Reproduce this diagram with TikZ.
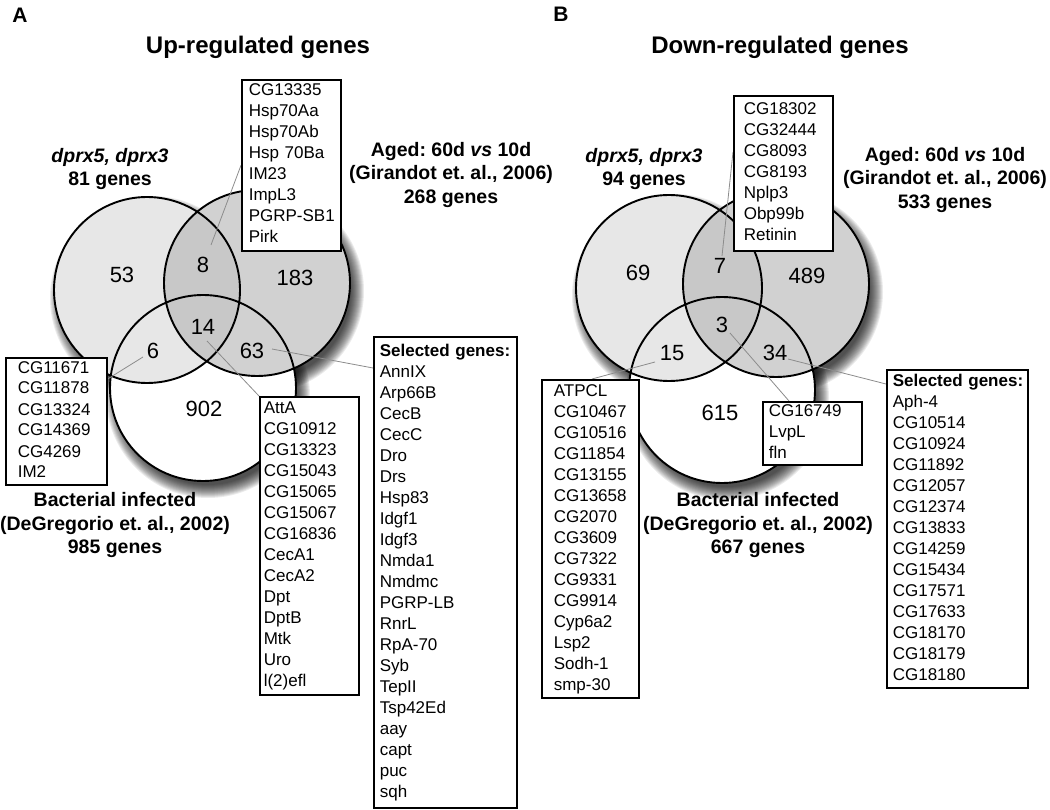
\documentclass[tikz,border=0pt]{standalone}
\usepackage{fontspec}
\setmainfont{Liberation Sans}
\usetikzlibrary{calc}
\pgfdeclarelayer{background}
\pgfsetlayers{background,main}
\definecolor{lgray}{HTML}{E7E7E7}
\definecolor{mgray}{HTML}{D1D1D1}
\definecolor{dgray}{HTML}{C8C8C8}
\definecolor{leadcol}{HTML}{8C8C8C}
\newcommand\shadowcirc[3]{%
  \foreach \k in {0,...,13}{\fill[black,opacity=0.08] (#1+5,#2+8) circle[radius={(#3+9-\k)*1pt}];}}
\newcommand\glist[1]{\begin{tabular}{@{}l@{}}#1\end{tabular}}
\tikzset{
  vennline/.style={draw=black, line width=1.9pt},
  num/.style={font=\fontsize{22}{24}\selectfont, inner sep=0pt},
  lbl/.style={font=\bfseries\fontsize{19.5}{23.5}\selectfont, align=center, inner sep=0pt},
  ttl/.style={font=\bfseries\fontsize{24}{28}\selectfont, inner sep=0pt},
  panel/.style={font=\bfseries\fontsize{21}{23}\selectfont, inner sep=0pt},
  genebox/.style={draw=black, line width=1.6pt, fill=white, anchor=north west, align=left, inner ysep=0pt, font=\fontsize{17}{21}\selectfont},
  lead/.style={draw=leadcol, line width=0.8pt}
}
\begin{document}
\frenchspacing
\begin{tikzpicture}[x=1pt,y=-1pt]
\useasboundingbox (0,0) rectangle (1050,810);
% ---------- titles ----------
\node[panel] (labA) at (20,15) {A};
\node[ttl] (titA) at (258,47) {Up-regulated genes};
\node[panel] (labB) at (561,14) {B};
\node[ttl] (titB) at (780,47) {Down-regulated genes};
% ---------- set labels ----------
\node[lbl] (dA) at (110,169) {\textit{dprx5, dprx3}\\81 genes};
\node[lbl] (agA) at (451,175) {Aged: 60d \textit{vs} 10d\\(Girandot et. al., 2006)\\268 genes};
\node[lbl] (bacA) at (115,525) {Bacterial infected\\(DeGregorio et. al., 2002)\\985 genes};
\node[lbl] (dB) at (644,169) {\textit{dprx5, dprx3}\\94 genes};
\node[lbl] (agB) at (945,180) {Aged: 60d \textit{vs} 10d\\(Girandot et. al., 2006)\\533 genes};
\node[lbl] (bacB) at (758,525) {Bacterial infected\\(DeGregorio et. al., 2002)\\667 genes};
% ---------- numbers ----------
\node[num] (a53) at (122,275) {53};
\node[num] (a8) at (203,265) {8};
\node[num] (a183) at (295,278) {183};
\node[num] (a14) at (203,327) {14};
\node[num] (a6) at (153,351) {6};
\node[num] (a63) at (252,351) {63};
\node[num] (a902) at (204,409) {902};
\node[num] (b69) at (638,273) {69};
\node[num] (b7) at (720,266) {7};
\node[num] (b489) at (807,276) {489};
\node[num] (b3) at (722,325) {3};
\node[num] (b15) at (672,353) {15};
\node[num] (b34) at (775,353) {34};
\node[num] (b615) at (720,413) {615};
% ---------- gene boxes ----------
\node[genebox, minimum width=99pt, minimum height=171pt, inner xsep=7pt, text width=85pt] (boxA8) at (241,79)
 {\glist{CG13335\\Hsp70Aa\\Hsp70Ab\\Hsp 70Ba\\IM23\\ImpL3\\PGRP-SB1\\Pirk}};
\node[genebox, minimum width=101pt, minimum height=127pt, inner xsep=12pt, text width=77pt] (boxA6) at (5,357)
 {\glist{CG11671\\CG11878\\CG13324\\CG14369\\CG4269\\IM2}};
\node[genebox, minimum width=99pt, minimum height=298pt, inner xsep=4pt, text width=91pt] (boxA14) at (259,396)
 {\glist{AttA\\CG10912\\CG13323\\CG15043\\CG15065\\CG15067\\CG16836\\CecA1\\CecA2\\Dpt\\DptB\\Mtk\\Uro\\l(2)efl}};
\node[genebox, minimum width=143pt, minimum height=471pt, inner xsep=6pt, text width=131pt] (boxA63) at (373,336)
 {\glist{\textbf{Selected genes:}\\AnnIX\\Arp66B\\CecB\\CecC\\Dro\\Drs\\Hsp83\\Idgf1\\Idgf3\\Nmda1\\Nmdmc\\PGRP-LB\\RnrL\\RpA-70\\Syb\\TepII\\Tsp42Ed\\aay\\capt\\puc\\sqh}};
\node[genebox, minimum width=99pt, minimum height=155pt, inner xsep=10pt, text width=79pt] (boxB7) at (733,95)
 {\glist{CG18302\\CG32444\\CG8093\\CG8193\\Nplp3\\Obp99b\\Retinin}};
\node[genebox, minimum width=97pt, minimum height=318pt, inner xsep=12pt, text width=73pt] (boxB15) at (541,379)
 {\glist{ATPCL\\CG10467\\CG10516\\CG11854\\CG13155\\CG13658\\CG2070\\CG3609\\CG7322\\CG9331\\CG9914\\Cyp6a2\\Lsp2\\Sodh-1\\smp-30}};
\node[genebox, minimum width=99pt, minimum height=62pt, inner xsep=6pt, text width=87pt] (boxB3) at (762,401)
 {\glist{CG16749\\LvpL\\fln}};
\node[genebox, minimum width=141pt, minimum height=318pt, inner xsep=6pt, text width=129pt] (boxB34) at (886,369)
 {\glist{\textbf{Selected genes:}\\Aph-4\\CG10514\\CG10924\\CG11892\\CG12057\\CG12374\\CG13833\\CG14259\\CG15434\\CG17571\\CG17633\\CG18170\\CG18179\\CG18180}};
% ---------- connector start points ----------
\coordinate (sA8) at (211,245);
\coordinate (sA6) at (143,357);
\coordinate (sA14) at (207,341);
\coordinate (sA63) at (272,349);
\coordinate (sB7) at (722,256);
\coordinate (sB15) at (655,362);
\coordinate (sB3) at (730,333);
\coordinate (sB34) at (788,359);
% ---------- background: circles and connectors ----------
\begin{pgfonlayer}{background}
  % panel A
  \shadowcirc{147}{290}{93}
  \shadowcirc{257}{283}{93}
  \shadowcirc{203}{388}{93}
  \fill[white] (203,388) circle[radius=93pt];
  \fill[lgray] (147,290) circle[radius=93pt];
  \fill[mgray] (257,283) circle[radius=93pt];
  \begin{scope}
    \clip (147,290) circle[radius=93pt];
    \fill[dgray] (257,283) circle[radius=93pt];
  \end{scope}
  \draw[vennline] (147,290) circle[radius=93pt];
  \draw[vennline] (257,283) circle[radius=93pt];
  \draw[vennline] (203,388) circle[radius=93pt];
  % panel B
  \shadowcirc{669}{288}{93}
  \shadowcirc{776}{284}{93}
  \shadowcirc{722}{390}{93}
  \fill[white] (722,390) circle[radius=93pt];
  \fill[lgray] (669,288) circle[radius=93pt];
  \fill[mgray] (776,284) circle[radius=93pt];
  \begin{scope}
    \clip (669,288) circle[radius=93pt];
    \fill[dgray] (776,284) circle[radius=93pt];
  \end{scope}
  \draw[vennline] (669,288) circle[radius=93pt];
  \draw[vennline] (776,284) circle[radius=93pt];
  \draw[vennline] (722,390) circle[radius=93pt];
  % connectors
  \draw[lead] (sA8) -- (boxA8.west);
  \draw[lead] (sA6) -- ([yshift=-22pt]boxA6.north east);
  \draw[lead] (sA14) -- (boxA14.north west);
  \draw[lead] (sA63) -- ([yshift=-32pt]boxA63.north west);
  \draw[lead] (sB7) -- ([yshift=-57pt]boxB7.north west);
  \draw[lead] (sB15) -- ([xshift=51pt]boxB15.north west);
  \draw[lead] (sB3) -- ([xshift=27pt]boxB3.north west);
  \draw[lead] (sB34) -- ([yshift=-15pt]boxB34.north west);
\end{pgfonlayer}
\end{tikzpicture}
\end{document}
